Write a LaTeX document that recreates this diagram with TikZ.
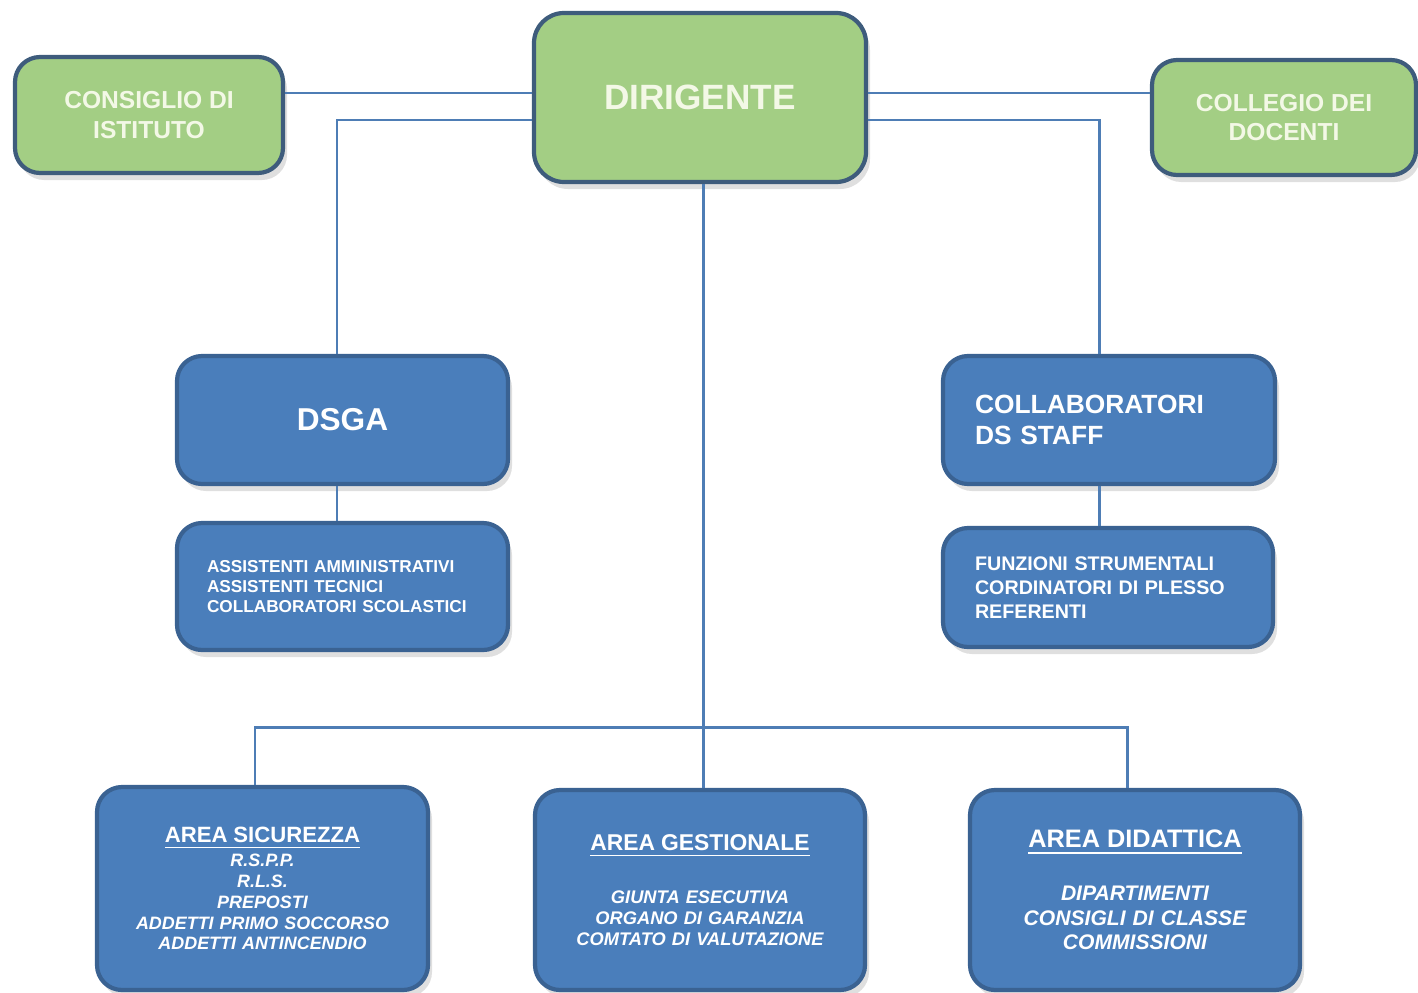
\documentclass[tikz,border=0pt]{standalone}
\usepackage{fontspec}
\setmainfont{Liberation Sans}
\usetikzlibrary{shadows}

\definecolor{leafgreen}{HTML}{A3CE84}
\definecolor{greenedge}{HTML}{3E5C7C}
\definecolor{boxblue}{HTML}{4A7EBB}
\definecolor{blueedge}{HTML}{3A6292}
\definecolor{linkblue}{HTML}{4E7DB5}
\definecolor{creamtext}{HTML}{F3F8E6}

\tikzset{
  greenbox/.style={rectangle, rounded corners=0.25cm, draw=greenedge, line width=1.2pt,
    fill=leafgreen, text=creamtext, align=center,
    drop shadow={opacity=0.25, shadow xshift=0.4mm, shadow yshift=-0.7mm}},
  bluebox/.style={rectangle, rounded corners=0.25cm, draw=blueedge, line width=1.2pt,
    fill=boxblue, text=white,
    drop shadow={opacity=0.25, shadow xshift=0.4mm, shadow yshift=-0.7mm}},
  link/.style={draw=linkblue, line width=0.85pt}
}

\begin{document}
\begin{tikzpicture}
\useasboundingbox (0,0) rectangle (14.18,9.92);

\node[greenbox,minimum width=2.68cm,minimum height=1.16cm,font=\bfseries\fontsize{7}{8.3}\selectfont] (cons) at (1.49,8.77) {CONSIGLIO DI\\ISTITUTO};
\node[greenbox,minimum width=3.32cm,minimum height=1.69cm,rounded corners=0.3cm,font=\bfseries\fontsize{10}{12}\selectfont] (dir) at (7.00,8.945) {DIRIGENTE};
\node[greenbox,minimum width=2.64cm,minimum height=1.15cm,font=\bfseries\fontsize{7}{8.5}\selectfont] (coll) at (12.84,8.745) {COLLEGIO DEI\\DOCENTI};

\node[bluebox,minimum width=3.31cm,minimum height=1.28cm,font=\bfseries\fontsize{9}{11}\selectfont] (dsga) at (3.425,5.72) {DSGA};
\node[bluebox,minimum height=1.27cm,inner xsep=0.30cm,text width=2.71cm,align=left,font=\bfseries\fontsize{4.9}{5.7}\selectfont] (assist) at (3.425,4.055) {ASSISTENTI AMMINISTRATIVI\\ASSISTENTI TECNICI\\COLLABORATORI SCOLASTICI};

\node[bluebox,minimum height=1.28cm,inner xsep=0.32cm,text width=2.68cm,align=left,font=\bfseries\fontsize{7.5}{8.8}\selectfont] (staff) at (11.09,5.72) {COLLABORATORI\\DS STAFF};
\node[bluebox,minimum height=1.19cm,inner xsep=0.32cm,text width=2.66cm,align=left,font=\bfseries\fontsize{5.6}{6.9}\selectfont] (funz) at (11.08,4.045) {FUNZIONI STRUMENTALI\\CORDINATORI DI PLESSO\\REFERENTI};

\node[bluebox,minimum height=2.03cm,inner xsep=0.1cm,text width=3.11cm,align=center,font=\bfseries\fontsize{5.1}{5.9}\selectfont] (sic) at (2.625,1.035) {{\fontsize{6.3}{7.5}\selectfont\underline{AREA SICUREZZA}}\\[1pt]\itshape R.S.P.P.\\R.L.S.\\PREPOSTI\\ADDETTI PRIMO SOCCORSO\\ADDETTI ANTINCENDIO};
\node[bluebox,minimum height=2.00cm,inner xsep=0.1cm,text width=3.10cm,align=center,font=\bfseries\fontsize{5.2}{6}\selectfont] (ges) at (7.00,1.02) {{\fontsize{6.5}{7.8}\selectfont\underline{AREA GESTIONALE}}\\[9pt]\itshape GIUNTA ESECUTIVA\\ORGANO DI GARANZIA\\COMTATO DI VALUTAZIONE};
\node[bluebox,minimum height=2.00cm,inner xsep=0.1cm,text width=3.10cm,align=center,font=\bfseries\fontsize{6}{7}\selectfont] (did) at (11.35,1.02) {{\fontsize{7.2}{8.6}\selectfont\underline{AREA DIDATTICA}}\\[8pt]\itshape DIPARTIMENTI\\CONSIGLI DI CLASSE\\COMMISSIONI};

\coordinate (upper) at (0,8.99);
\coordinate (lower) at (0,8.72);
\coordinate (leftdrop) at (3.37,0);
\coordinate (rightdrop) at (10.99,0);
\coordinate (middrop) at (7.03,0);
\coordinate (bus) at (0,2.65);
\coordinate (busleft) at (2.55,0);
\coordinate (busright) at (11.27,0);

\draw[link] (cons.east |- upper) -- (dir.west |- upper);
\draw[link] (dir.east |- upper) -- (coll.west |- upper);
\draw[link] (dir.west |- lower) -| (leftdrop |- dsga.north);
\draw[link] (dir.east |- lower) -| (rightdrop |- staff.north);
\draw[link] (leftdrop |- dsga.south) -- (leftdrop |- assist.north);
\draw[link] (rightdrop |- staff.south) -- (rightdrop |- funz.north);
\draw[link] (middrop |- dir.south) -- (middrop |- ges.north);
\draw[link] (busleft |- sic.north) |- (middrop |- bus) -| (busright |- did.north);

\end{tikzpicture}
\end{document}
